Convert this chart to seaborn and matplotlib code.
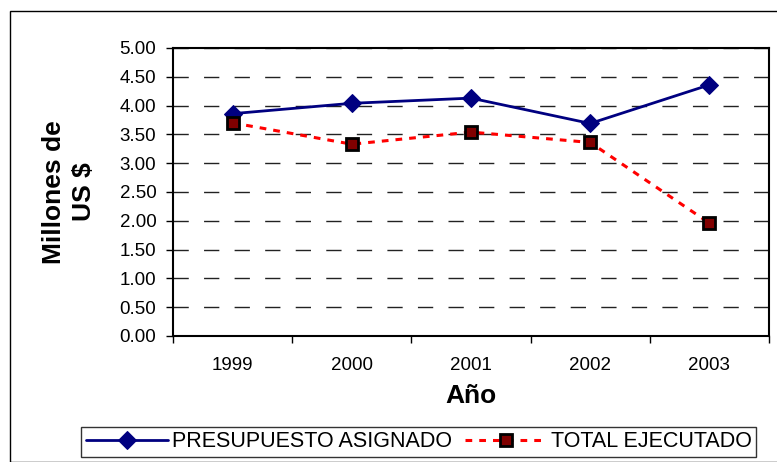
import matplotlib
matplotlib.use("Agg")
import matplotlib.pyplot as plt
from matplotlib.patches import Rectangle
import seaborn as sns
import pandas as pd

years = [1999, 2000, 2001, 2002, 2003]
presupuesto = [3.86, 4.04, 4.13, 3.69, 4.36]
ejecutado = [3.70, 3.33, 3.54, 3.36, 1.96]
series_names = ["PRESUPUESTO ASIGNADO", "TOTAL EJECUTADO"]

df = pd.DataFrame({
    "Año": years * 2,
    "Valor": presupuesto + ejecutado,
    "Serie": [series_names[0]] * 5 + [series_names[1]] * 5,
})

sns.set_theme(style="white")
plt.rcParams["font.family"] = ["Liberation Sans", "DejaVu Sans"]
plt.rcParams["text.color"] = "black"
plt.rcParams["axes.labelcolor"] = "black"
plt.rcParams["xtick.color"] = "black"
plt.rcParams["ytick.color"] = "black"

fig = plt.figure(figsize=(7.77, 4.62), dpi=100)
ax = fig.add_axes([173 / 777, 126 / 462, 596 / 777, 288 / 462])

# outer chart border
fig.patches.append(Rectangle((10 / 777, 0), 1, 1 - 11 / 462, transform=fig.transFigure,
                             fill=False, edgecolor="black", linewidth=1.0))

sns.lineplot(data=df[df["Serie"] == series_names[0]], x="Año", y="Valor", ax=ax,
             color="#000080", linewidth=2, marker="D", markersize=9.5,
             markeredgecolor="#000080", label=series_names[0])
sns.lineplot(data=df[df["Serie"] == series_names[1]], x="Año", y="Valor", ax=ax,
             color="#FF0000", linewidth=2.2, linestyle=(0, (2.2, 2.3)), marker="s",
             markersize=8.5, markerfacecolor="#800000", markeredgecolor="black",
             markeredgewidth=2, label=series_names[1])

ax.set_xlim(1998.5, 2003.5)
ax.set_ylim(0, 5)
ax.set_yticks([i * 0.5 for i in range(11)])
ax.set_yticklabels([f"{i * 0.5:.2f}" for i in range(11)], fontsize=13.5)
ax.tick_params(axis="y", direction="out", length=5, width=1, pad=7, left=True)

# category boundaries as ticks, labels at the centres
ax.set_xticks([y - 0.5 for y in years] + [years[-1] + 0.5])
ax.set_xticklabels([])
ax.tick_params(axis="x", which="major", direction="out", length=5, width=1, bottom=True)
ax.set_xticks(years, minor=True)
ax.set_xticklabels([str(y) for y in years], minor=True, fontsize=13.5)
ax.tick_params(axis="x", which="minor", length=0, pad=15)

ax.yaxis.grid(True, color="#222222", linestyle=(0, (11, 11)), linewidth=1)
ax.set_axisbelow(True)
for s in ax.spines.values():
    s.set_color("black")
    s.set_linewidth(1.5)

ax.set_xlabel("Año", fontsize=19, fontweight="bold", labelpad=7)
ax.set_ylabel("Millones de\nUS $", fontsize=19, fontweight="bold", labelpad=17,
              linespacing=1.3)

ax.get_legend().remove()
handles, labels = ax.get_legend_handles_labels()
leg = fig.legend(handles, labels, loc="lower left",
                 bbox_to_anchor=(81 / 777, 5 / 462),
                 ncol=2, frameon=True, fancybox=False, fontsize=15.5,
                 handlelength=3.8, columnspacing=0.6, handletextpad=0.2,
                 borderpad=0.22, borderaxespad=0)
leg.get_frame().set_edgecolor("black")
leg.get_frame().set_linewidth(1.0)

fig.savefig("out.png", dpi=100)
